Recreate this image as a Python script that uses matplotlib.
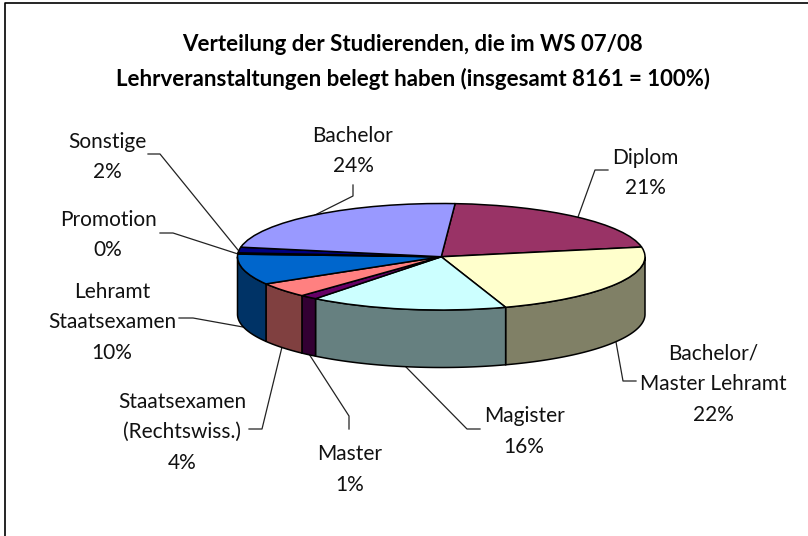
import numpy as np
import matplotlib
matplotlib.use("Agg")
import matplotlib.pyplot as plt
from matplotlib.colors import to_rgb

plt.rcParams['font.family'] = ['Lato', 'DejaVu Sans']

W, H = 808, 536

# percent shares, clockwise starting at Diplom
names = ['Diplom', 'Bachelor/\nMaster Lehramt', 'Magister', 'Master',
         'Staatsexamen\n(Rechtswiss.)', 'Lehramt\nStaatsexamen', 'Promotion', 'Sonstige', 'Bachelor']
shares = [21.0, 22.8, 15.7, 1.4, 4.5, 9.3, 0.4, 1.7, 23.2]
percent_labels = ['21%', '22%', '16%', '1%', '4%', '10%', '0%', '2%', '24%']
colors = ['#993366', '#FFFFCC', '#CCFFFF', '#660066', '#FF8080', '#0066CC', '#CCCCFF', '#000080', '#9999FF']

title_lines = ['Verteilung der Studierenden, die im WS 07/08',
               'Lehrveranstaltungen belegt haben (insgesamt 8161 = 100%)']

# centre of each label's first row in pixels, then the leader line
label_pos = [(645, 157.5), (713, 353.5), (524, 416.5), (350, 454.5), (182, 401.5), (112, 291.5), (108, 219.5), (107, 141.5), (353, 135.5)]
leaders = [
    [(608, 170), (595, 170), (578, 217)],
    [(636, 381), (623, 381), (616, 342)],
    [(480, 429), (467, 429), (405, 366)],
    [(349, 429), (349, 416), (309, 354)],
    [(249, 429), (262, 429), (282, 347)],
    [(179, 318), (193, 318), (243, 327)],
    [(160, 233), (173, 233), (238, 254)],
    [(148, 154), (160, 154), (238, 250)],
    [(353, 185), (353, 196), (315, 215)],
]

start_angle = 3.9  # degrees clockwise from the top
depth = 1.08       # wall height in units of the ellipse's minor radius

fig = plt.figure(figsize=(W / 100, H / 100), dpi=100, facecolor='white')

# pixel layer for border, leaders and text
page = fig.add_axes([0, 0, 1, 1])
page.set_xlim(0, W)
page.set_ylim(H, 0)
page.axis('off')
page.plot([5, 5, W + 5], [H + 5, 3, 3], color='black', lw=1.2)

for line in leaders:
    xs, ys = zip(*line)
    page.plot(xs, ys, color='#222222', lw=0.9)

for text, y in zip(title_lines, [44.5, 78.5]):
    page.text(413, y, text, ha='center', va='center', fontsize=16, fontweight='bold', color='black')

for name, pct, (x, y) in zip(names, percent_labels, label_pos):
    rows = name.split('\n') + [pct]
    for i, row in enumerate(rows):
        page.text(x, y + i * 30.7, row, ha='center', va='center', fontsize=15, color='#111111')

# pie layer: axes box is the bounding box of the top ellipse
left, right, top, bottom = 237.5, 645, 203.5, 310
ax = fig.add_axes([left / W, 1 - bottom / H, (right - left) / W, (bottom - top) / H])
wedges, _ = ax.pie(shares, colors=colors, startangle=90 - start_angle, counterclock=False,
                   wedgeprops={'edgecolor': 'black', 'linewidth': 1.1})
ax.set_aspect('auto')
ax.set_xlim(-1, 1)
ax.set_ylim(-1, 1)
ax.axis('off')
for w in wedges:
    w.set_clip_on(False)

# side walls for the front half of the pie
edges = start_angle + np.cumsum([0] + shares) * 3.6
for a0, a1, c in zip(edges[:-1], edges[1:], colors):
    a0, a1 = max(a0, 90), min(a1, 270)
    if a1 <= a0:
        continue
    t = np.radians(np.linspace(a0, a1, 80))
    x = np.sin(t)
    y = np.cos(t)
    wall_x = np.r_[x, x[::-1]]
    wall_y = np.r_[y, y[::-1] - depth]
    shade = tuple(v * 0.5 for v in to_rgb(c))
    ax.fill(wall_x, wall_y, facecolor=shade, edgecolor='black', lw=1.1, zorder=0.5, clip_on=False)

fig.savefig('out.png', dpi=100)
